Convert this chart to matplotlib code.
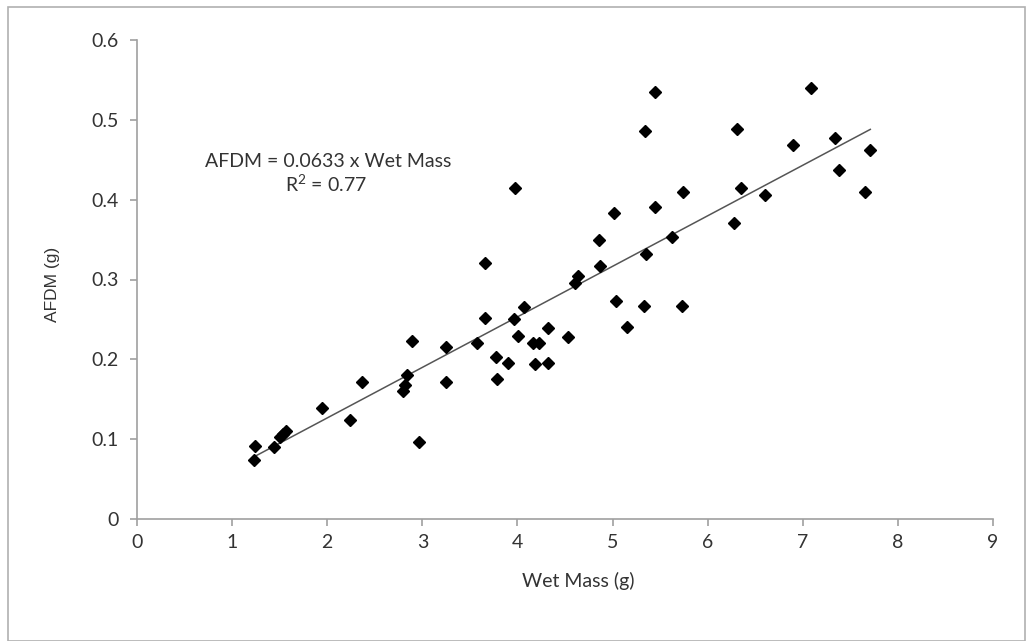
import matplotlib
matplotlib.use("Agg")
import matplotlib.pyplot as plt
from matplotlib.patches import Rectangle
import numpy as np

plt.rcParams["mathtext.fontset"] = "custom"
plt.rcParams["mathtext.rm"] = "Lato"
plt.rcParams["mathtext.it"] = "Lato"

wet_mass = [1.23, 1.24, 1.44, 1.50, 1.54, 1.57, 1.94, 2.24, 2.37, 2.80, 2.82, 2.84,
            2.89, 2.96, 3.25, 3.25, 3.57, 3.66, 3.66, 3.77, 3.78, 3.90, 3.96, 3.97,
            4.01, 4.07, 4.16, 4.18, 4.23, 4.32, 4.32, 4.53, 4.61, 4.64, 4.86, 4.87,
            5.02, 5.04, 5.15, 5.33, 5.35, 5.34, 5.45, 5.45, 5.63, 5.73, 5.74, 6.28,
            6.31, 6.35, 6.60, 6.90, 7.09, 7.34, 7.38, 7.65, 7.71]
afdm = [0.074, 0.092, 0.090, 0.103, 0.106, 0.110, 0.139, 0.124, 0.172, 0.160, 0.168, 0.180,
        0.223, 0.097, 0.215, 0.172, 0.221, 0.252, 0.321, 0.203, 0.175, 0.195, 0.250, 0.415,
        0.229, 0.265, 0.221, 0.194, 0.220, 0.239, 0.195, 0.228, 0.295, 0.304, 0.350, 0.317,
        0.383, 0.273, 0.240, 0.267, 0.332, 0.486, 0.535, 0.391, 0.353, 0.267, 0.410, 0.371,
        0.489, 0.414, 0.406, 0.468, 0.540, 0.477, 0.437, 0.410, 0.462]
slope = 0.0633
x_ticks = [0, 1, 2, 3, 4, 5, 6, 7, 8, 9]
y_ticks = [0, 0.1, 0.2, 0.3, 0.4, 0.5, 0.6]
y_tick_labels = ["0", "0.1", "0.2", "0.3", "0.4", "0.5", "0.6"]

W, H = 1028, 641
fig = plt.figure(figsize=(W / 100, H / 100), dpi=100)
fig.patches.append(Rectangle((8 / W, 0.0), (1025 - 8) / W, (H - 6.5) / H,
                             transform=fig.transFigure, fill=False,
                             edgecolor="#b0b0b0", linewidth=1.2))

ax = fig.add_axes([137 / W, 1 - 519 / H, (993 - 137) / W, (519 - 40) / H])
ax.set_xlim(0, 9)
ax.set_ylim(0, 0.6)

x0, x1 = min(wet_mass), max(wet_mass)
ax.plot([x0, x1], [slope * x0, slope * x1], color="#555555", linewidth=1.1, zorder=2)
ax.plot(wet_mass, afdm, linestyle="none", marker="D", markersize=6.3,
        color="black", zorder=3)

for side in ("top", "right"):
    ax.spines[side].set_visible(False)
for side in ("left", "bottom"):
    ax.spines[side].set_color("#a0a0a0")
    ax.spines[side].set_linewidth(1.2)

tick_font = "Lato"
fs = 14
ax.set_xticks(x_ticks)
ax.set_xticklabels([str(v) for v in x_ticks], fontfamily=tick_font, fontsize=fs, color="#333333")
ax.set_yticks(y_ticks)
ax.set_yticklabels(y_tick_labels, fontfamily=tick_font, fontsize=fs, color="#333333")
ax.tick_params(axis="both", direction="out", length=5, width=1.2, color="#a0a0a0")
ax.tick_params(axis="x", pad=6)
ax.tick_params(axis="y", pad=8)

fig.text(578 / W, 1 - 581 / H, "Wet Mass (g)", ha="center", va="center",
         fontfamily=tick_font, fontsize=fs, color="#333333")
fig.text(52 / W, 1 - 284 / H, "AFDM (g)", ha="center", va="center", rotation=90,
         fontfamily="Liberation Sans", fontsize=12.5, color="#333333")

fig.text(328 / W, 1 - 162 / H, "AFDM = 0.0633 x Wet Mass", ha="center", va="center",
         fontfamily=tick_font, fontsize=fs, color="#333333")
fig.text(326 / W, 1 - 184 / H, r"R$^{2}$ = 0.77", ha="center", va="center",
         fontfamily=tick_font, fontsize=fs, color="#333333")

fig.savefig("out.png", dpi=100)
